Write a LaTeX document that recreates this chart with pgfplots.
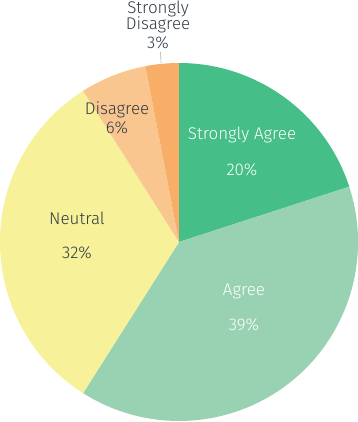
\documentclass[border=0pt]{standalone}
\usepackage{pgfplots}
\usepackage{pgfplotstable}
\pgfplotsset{compat=1.18}
\usepackage{fontspec}
\setmainfont{Fira Sans}[UprightFont=* Light]
\definecolor{cSA}{HTML}{45BE87}
\definecolor{cA}{HTML}{98D2B2}
\definecolor{cN}{HTML}{F7F19A}
\definecolor{cD}{HTML}{F9C68F}
\definecolor{cSD}{HTML}{F8AE66}
\definecolor{txt}{HTML}{2F3A45}
\pgfplotstableread{
value color
20 cSA
39 cA
32 cN
6 cD
3 cSD
}\piedata
\begin{document}
\begin{tikzpicture}
\begin{axis}[hide axis, scale only axis, x=1bp, y=1bp,
  xmin=-179, xmax=179, ymin=-180, ymax=242, clip=false]
\pgfmathsetmacro\cum{90}
\pgfplotsforeachungrouped \i in {0,...,4}{%
  \pgfplotstablegetelem{\i}{value}\of\piedata \let\v\pgfplotsretval
  \pgfplotstablegetelem{\i}{color}\of\piedata \let\c\pgfplotsretval
  \pgfmathsetmacro\endang{\cum-3.6*\v}%
  \edef\temp{\noexpand\fill[\c] (axis cs:0,0) -- ++(\cum:179bp) arc[start angle=\cum, end angle=\endang, radius=179bp] -- cycle;}%
  \temp
  \global\let\cum\endang
}
\begin{scope}[every node/.style={font=\fontsize{17}{17}\selectfont, inner sep=0pt}]
\node[white] at (axis cs:63,107) {Strongly Agree};
\node[white] at (axis cs:63,72) {20\%};
\node[white] at (axis cs:65,-49) {Agree};
\node[white] at (axis cs:65,-83) {39\%};
\node[txt] at (axis cs:-102,24) {Neutral};
\node[txt] at (axis cs:-102,-11) {32\%};
\node[txt] at (axis cs:-62,132) {Disagree};
\node[txt] at (axis cs:-62,114) {6\%};
\node[txt] at (axis cs:-21,233) {Strongly};
\node[txt] at (axis cs:-21,217) {Disagree};
\node[txt] at (axis cs:-21,199) {3\%};
\end{scope}
\draw[gray!60, line width=0.6pt] (axis cs:-18.5,190) -- (axis cs:-18,179);
\end{axis}
\pgfresetboundingbox
\path[use as bounding box] (current axis.south west) rectangle (current axis.north east);
\end{tikzpicture}
\end{document}
